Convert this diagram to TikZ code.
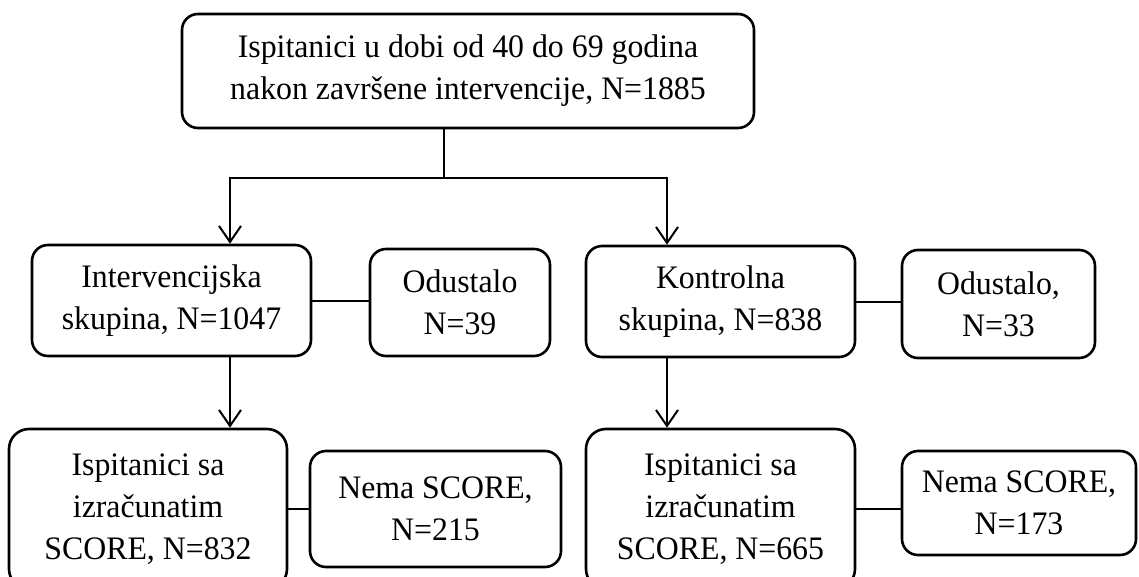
\documentclass[tikz,border=0pt]{standalone}
\usepackage{fontspec}
\setmainfont[FakeStretch=0.97]{Liberation Serif}
\usepackage{tikz}
\usetikzlibrary{arrows.meta, positioning, calc}

\begin{document}
\begin{tikzpicture}[x=1pt, y=-1pt,
    box/.style={draw, line width=2.6pt, rounded corners=16pt, align=center,
        inner sep=0pt, font=\fontsize{32.8}{42}\selectfont},
    link/.style={line width=2pt},
    arr/.style={line width=2pt, -{Straight Barb[length=16pt, width=22pt, line width=2pt]}}]
\useasboundingbox (0,0) rectangle (1139,577);

% Start
\node[box, minimum width=572pt, minimum height=114pt] (start) at (468,71)
    {Ispitanici u dobi od 40 do 69 godina\\nakon završene intervencije, N=1885};

% Two groups
\node[box, minimum width=279pt, minimum height=111pt] (interv) at (171.5,300.5)
    {Intervencijska\\skupina, N=1047};
\node[box, minimum width=180pt, minimum height=107pt] (dropI) at (460,302.5)
    {Odustalo\\N=39};
\node[box, minimum width=269pt, minimum height=111pt] (kontr) at (720.5,301.5)
    {Kontrolna\\skupina, N=838};
\node[box, minimum width=193pt, minimum height=108pt] (dropK) at (998.5,304)
    {Odustalo,\\N=33};

% With SCORE
\node[box, minimum width=278pt, minimum height=160pt, rounded corners=20pt] (scoreI) at (148,509)
    {Ispitanici sa\\izračunatim\\SCORE, N=832};
\node[box, minimum width=251pt, minimum height=116pt] (noneI) at (435.5,509)
    {Nema SCORE,\\N=215};
\node[box, minimum width=269pt, minimum height=160pt, rounded corners=20pt] (scoreK) at (720.5,509)
    {Ispitanici sa\\izračunatim\\SCORE, N=665};
\node[box, minimum width=234pt, minimum height=104pt] (noneK) at (1019,503)
    {Nema SCORE,\\N=173};

% Split below start
\coordinate (split) at (444,178);
\coordinate (splitI) at (230,178);
\coordinate (splitK) at (667,178);
\draw[link] (split |- start.south) -- (split);
\draw[arr] (split) -- (splitI) -- (splitI |- interv.north);
\draw[arr] (split) -- (splitK) -- (splitK |- kontr.north);

% Down to SCORE boxes
\draw[arr] (splitI |- interv.south) -- (splitI |- scoreI.north);
\draw[arr] (splitK |- kontr.south) -- (splitK |- scoreK.north);

% Side boxes
\foreach \a/\b in {interv/dropI, kontr/dropK, scoreI/noneI, scoreK/noneK} {
    \draw[link] (\a.east) -- (\a.east -| \b.west);
}
\end{tikzpicture}
\end{document}
